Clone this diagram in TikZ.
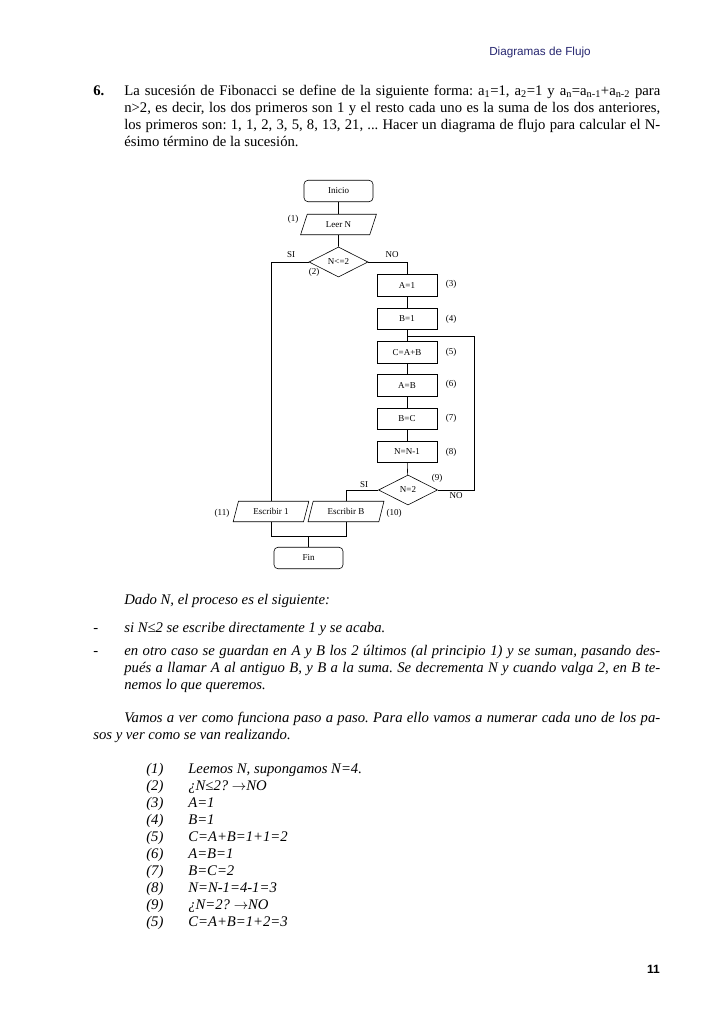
\documentclass[tikz,border=0pt]{standalone}
\usepackage{fontspec}
\setmainfont{Liberation Serif}
\newfontfamily\headfont{Liberation Sans}
\usetikzlibrary{positioning,shapes.geometric}
\definecolor{headblue}{RGB}{38,38,112}
\frenchspacing

\begin{document}
\begin{tikzpicture}[x=1pt, y=-1pt, line width=0.6pt,
  txt/.style={anchor=base west, inner sep=0pt, font=\fontsize{14.7}{17}\selectfont},
  itxt/.style={txt, font=\fontsize{14.7}{17}\selectfont\itshape},
  proc/.style={draw, minimum width=60pt, minimum height=21.5pt, inner sep=1pt,
               font=\fontsize{9}{10}\selectfont},
  term/.style={proc, rounded corners=4pt, minimum width=69pt},
  io/.style={draw, trapezium, trapezium stretches=true,
             trapezium left angle=70, trapezium right angle=110,
             minimum width=76pt, minimum height=20.5pt, inner sep=1pt,
             font=\fontsize{9}{10}\selectfont},
  dec/.style={draw, diamond, aspect=2, minimum width=59pt, minimum height=30pt,
              inner sep=0pt, font=\fontsize{9}{10}\selectfont},
  lbl/.style={inner sep=0pt, font=\fontsize{9}{10}\selectfont}
]
\useasboundingbox[fill=white] (0,0) rectangle (728,1031);

%% Page header
\node[anchor=base east, inner sep=0pt, text=headblue,
      font=\headfont\fontsize{11.7}{13}\selectfont] (header) at (591,55) {Diagramas de Flujo};

%% Statement of the exercise
\node[txt, font=\fontsize{14.7}{17}\selectfont\bfseries] (num6) at (93,95) {6.};
\node[txt] (s1) at (124,95)  {\makebox[536pt][s]{La sucesión de Fibonacci se define de la siguiente forma: a\textsubscript{1}=1, a\textsubscript{2}=1 y a\textsubscript{n}=a\textsubscript{n-1}+a\textsubscript{n-2} para}};
\node[txt] (s2) at (124,112) {\makebox[536pt][s]{n>2, es decir, los dos primeros son 1 y el resto cada uno es la suma de los dos anteriores,}};
\node[txt] (s3) at (124,129) {\makebox[536pt][s]{los primeros son: 1, 1, 2, 3, 5, 8, 13, 21, ... Hacer un diagrama de flujo para calcular el N-}};
\node[txt] (s4) at (124,146) {ésimo término de la sucesión.};

%% Flowchart
\node[term] (inicio) at (338.5,191)   {Inicio};
\node[io]   (leer)   at (338.5,224.5) {Leer N};
\node[dec]  (cond1)  at (338.5,262)   {N<=2};
\node[proc] (a1)     at (407,285.5)   {A=1};
\node[proc] (b1)     at (407,318.8)   {B=1};
\node[proc] (suma)   at (407,352.1)   {C=A+B};
\node[proc] (ab)     at (407,385.4)   {A=B};
\node[proc] (bc)     at (407,418.7)   {B=C};
\node[proc] (dec)    at (407,452)     {N=N-1};
\node[dec]  (cond2)  at (408,490)     {N=2};
\node[io]   (escb)   at (346,511.5)   {Escribir B};
\node[io]   (esc1)   at (271,511.5)   {Escribir 1};
\node[term] (fin)    at (308.5,558)   {Fin};

\coordinate (loopj) at (407,336);
\coordinate (loopc) at (474,336);
\coordinate (join)  at (308.5,536);

\draw (inicio) -- (leer);
\draw (leer) -- (cond1);
\draw (cond1.west) -| (esc1.north);
\draw (cond1.east) -| (a1.north);
\draw (a1) -- (b1);
\draw (b1) -- (suma);
\draw (suma) -- (ab);
\draw (ab) -- (bc);
\draw (bc) -- (dec);
\draw (dec) -- (cond2);
\draw (cond2.east) -| (loopc) -- (loopj);
\draw (cond2.west) -| (escb.north);
\draw (esc1.south) |- (join);
\draw (escb.south) |- (join);
\draw (join) -- (fin.north);

%% Step numbers and branch labels
\node[lbl] (l1)  at (293,219) {(1)};
\node[lbl] (l2)  at (314,272) {(2)};
\node[lbl] (si1) at (291,255) {SI};
\node[lbl] (no1) at (392,255) {NO};
\node[lbl] (l3)  at (451,284) {(3)};
\node[lbl] (l4)  at (451,319) {(4)};
\node[lbl] (l5)  at (451,352) {(5)};
\node[lbl] (l6)  at (451,384) {(6)};
\node[lbl] (l7)  at (451,418) {(7)};
\node[lbl] (l8)  at (451,452) {(8)};
\node[lbl] (l9)  at (437,478) {(9)};
\node[lbl] (no2) at (456,496) {NO};
\node[lbl] (si2) at (364,485) {SI};
\node[lbl] (l10) at (394,513) {(10)};
\node[lbl] (l11) at (222,513) {(11)};

%% Explanation
\node[itxt] (e0) at (124,604) {Dado N, el proceso es el siguiente:};
\node[itxt] (d1) at (93,632)  {-};
\node[itxt] (e1) at (124,632) {si N≤2 se escribe directamente 1 y se acaba.};
\node[itxt] (d2) at (93,655)  {-};
\node[itxt] (e2) at (124,655) {\makebox[536pt][s]{en otro caso se guardan en A y B los 2 últimos (al principio 1) y se suman, pasando des-}};
\node[itxt] (e3) at (124,672) {\makebox[536pt][s]{pués a llamar A al antiguo B, y B a la suma. Se decrementa N y cuando valga 2, en B te-}};
\node[itxt] (e4) at (124,689) {nemos lo que queremos.};
\node[itxt] (e5) at (124,722) {\makebox[536pt][s]{Vamos a ver como funciona paso a paso. Para ello vamos a numerar cada uno de los pa-}};
\node[itxt] (e6) at (93,739)  {sos y ver como se van realizando.};

%% Step by step trace
\foreach \n/\t [count=\i from 0] in {{1}/{Leemos N, supongamos N=4.}, {2}/{¿N≤2? $\rightarrow$NO}, {3}/{A=1}, {4}/{B=1},
    {5}/{C=A+B=1+1=2}, {6}/{A=B=1}, {7}/{B=C=2}, {8}/{N=N-1=4-1=3}, {9}/{¿N=2? $\rightarrow$NO}, {5}/{C=A+B=1+2=3}}
  {
    \node[itxt] (n\i) at (146,773+17*\i) {(\n)};
    \node[itxt] (t\i) at (188,773+17*\i) {\t};
  }

%% Page number
\node[anchor=base east, inner sep=0pt, font=\headfont\bfseries\fontsize{12}{14}\selectfont] (page) at (660,973) {11};
\end{tikzpicture}
\end{document}
